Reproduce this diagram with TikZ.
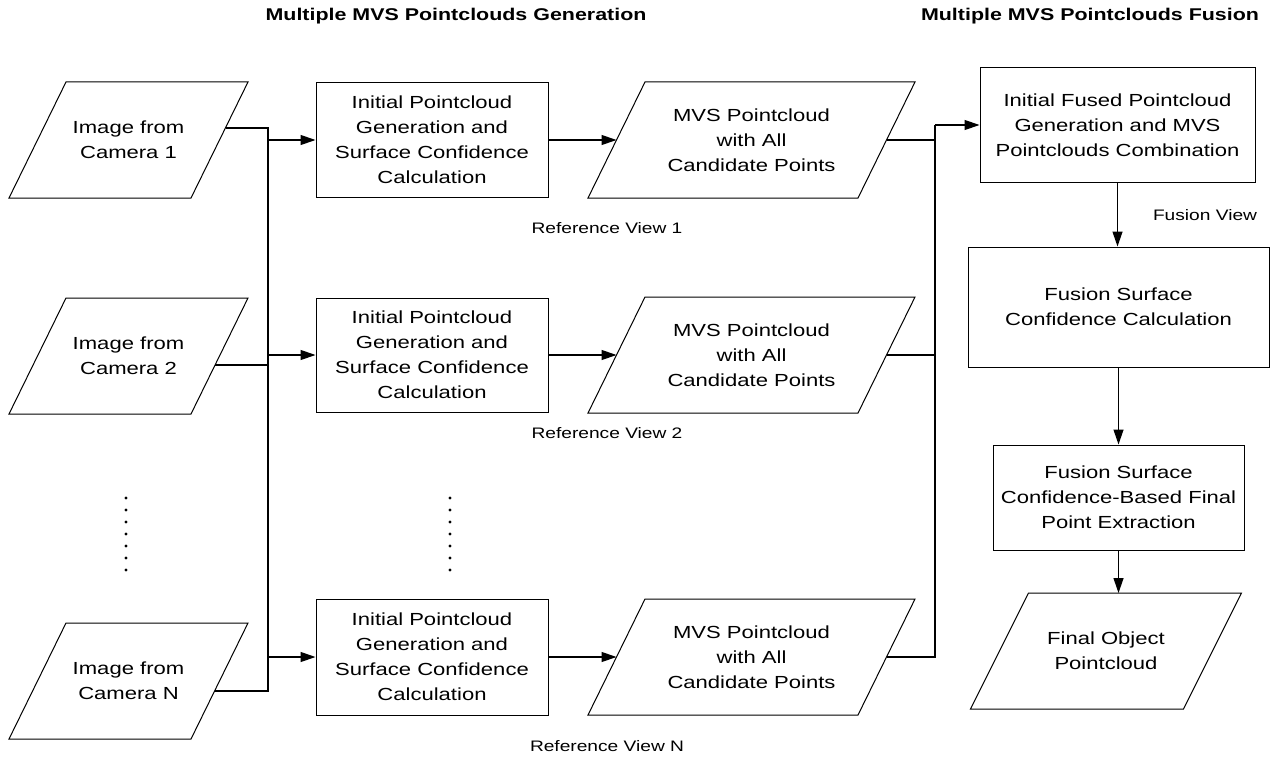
\documentclass[tikz,border=0pt]{standalone}
\usepackage{fontspec}
\setmainfont{Liberation Sans}[FakeStretch=1.26]
\usetikzlibrary{arrows.meta,calc}
\newcommand{\parallelo}[4]{% #1 name, #2 half top length, #3 half skew, #4 half height
  \draw[shp] ($(#1)+({-#2+#3},-#4)$) -- ($(#1)+({#2+#3},-#4)$) -- ($(#1)+({#2-#3},#4)$) -- ($(#1)+({-#2-#3},#4)$) -- cycle;}
\begin{document}
\begin{tikzpicture}[x=1pt,y=-1pt,
  txt/.style={font=\fontsize{17.5}{25}\selectfont, align=center, inner sep=0pt},
  lbl/.style={font=\fontsize{15.2}{20}\selectfont, inner sep=0pt},
  ttl/.style={font=\fontsize{17}{20}\selectfont\bfseries, inner sep=0pt},
  rbox/.style={draw, line width=1pt, txt},
  shp/.style={line width=1pt},
  conn/.style={line width=1.2pt},
  arr/.style={conn, -{Triangle[length=15pt,width=10pt]}},
]
\useasboundingbox (0,0) rectangle (1281,757);

% titles
\node[ttl] (t1) at (456,16) {Multiple MVS Pointclouds Generation};
\node[ttl] (t2) at (1090,16) {Multiple MVS Pointclouds Fusion};

% input images
\node[txt] (img1) at (128.5,140) {Image from\\Camera 1};
\node[txt] (img2) at (128.5,356) {Image from\\Camera 2};
\node[txt] (imgN) at (128.5,681) {Image from\\Camera N};
\parallelo{img1}{91}{28.5}{58}
\parallelo{img2}{91}{28.5}{58}
\parallelo{imgN}{91}{28.5}{58}
\coordinate (img1o) at ($(img1)+(97,-12)$);
\coordinate (img2o) at ($(img2)+(86.6,9)$);
\coordinate (imgNo) at ($(imgN)+(86.1,10)$);

% initial pointcloud boxes
\node[rbox, minimum width=232pt, minimum height=114pt] (box1) at (432,140) {Initial Pointcloud\\Generation and\\Surface Confidence\\Calculation};
\node[rbox, minimum width=232pt, minimum height=114pt] (box2) at (432,355) {Initial Pointcloud\\Generation and\\Surface Confidence\\Calculation};
\node[rbox, minimum width=232pt, minimum height=116pt] (boxN) at (432,657) {Initial Pointcloud\\Generation and\\Surface Confidence\\Calculation};

% MVS pointclouds
\node[txt] (mvs1) at (751.5,140) {MVS Pointcloud\\with All\\Candidate Points};
\node[txt] (mvs2) at (751.5,355) {MVS Pointcloud\\with All\\Candidate Points};
\node[txt] (mvsN) at (751.5,657) {MVS Pointcloud\\with All\\Candidate Points};
\parallelo{mvs1}{135}{28.5}{58}
\parallelo{mvs2}{135}{28.5}{58}
\parallelo{mvsN}{135}{28.5}{58}
\foreach \m in {mvs1,mvs2,mvsN}{
  \coordinate (\m w) at ($(\m)+(-135,0)$);
  \coordinate (\m e) at ($(\m)+(135,0)$);
}

% labels
\node[lbl] (rv1) at (607,228) {Reference View 1};
\node[lbl] (rv2) at (607,433) {Reference View 2};
\node[lbl] (rvN) at (607,746) {Reference View N};

% dots
\foreach \k in {0,...,6}{
  \fill (126,{498+12*\k}) circle[radius=1.6pt];
  \fill (450,{498+12*\k}) circle[radius=1.6pt];
}

% fusion column
\node[rbox, minimum width=275pt, minimum height=114pt] (f1) at (1117.5,125) {Initial Fused Pointcloud\\Generation and MVS\\Pointclouds Combination};
\node[rbox, minimum width=301pt, minimum height=120pt] (f2) at (1118.5,307) {Fusion Surface\\Confidence Calculation};
\node[rbox, minimum width=251pt, minimum height=105pt] (f3) at (1118.5,497.5) {Fusion Surface\\Confidence-Based Final\\Point Extraction};
\node[txt] (fin) at (1106,651) {Final Object\\Pointcloud};
\parallelo{fin}{106.5}{29}{58}
\coordinate (fintop) at ($(fin)+(0,-58)$);
\node[lbl] (fv) at (1205,215) {Fusion View};

% buses
\coordinate (busL) at (268,0);
\coordinate (busR) at (935,0);

% left connectors
\draw[conn] (img1o) -- (img1o -| busL) -- (imgNo -| busL) -- (imgNo);
\draw[conn] (img2o) -- (img2o -| busL);
\draw[arr] (box1.west -| busL) -- (box1.west);
\draw[arr] (box2.west -| busL) -- (box2.west);
\draw[arr] (boxN.west -| busL) -- (boxN.west);

% box to MVS
\draw[arr] (box1.east) -- (mvs1w);
\draw[arr] (box2.east) -- (mvs2w);
\draw[arr] (boxN.east) -- (mvsNw);

% right bus
\draw[conn] (mvs1e) -- (mvs1e -| busR);
\draw[conn] (mvs2e) -- (mvs2e -| busR);
\draw[conn] (mvsNe) -- (mvsNe -| busR) -- (f1.west -| busR);
\draw[arr] (f1.west -| busR) -- (f1.west);

% fusion arrows
\draw[arr] (f1.south) -- (f1.south |- f2.north);
\draw[arr] (f2.south) -- (f2.south |- f3.north);
\draw[arr] (f3.south) -- (f3.south |- fintop);
\end{tikzpicture}
\end{document}
